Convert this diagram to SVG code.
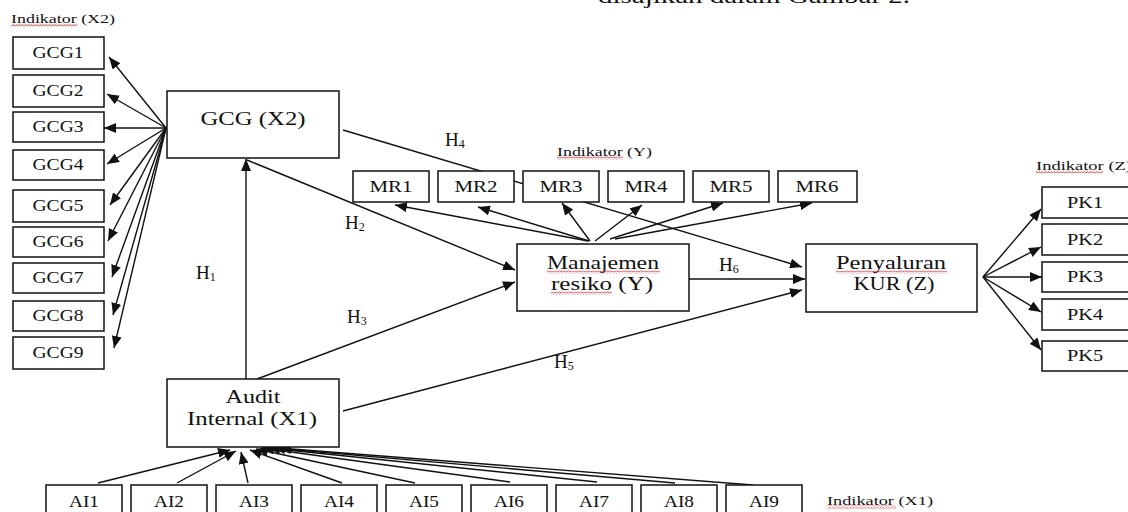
<svg xmlns="http://www.w3.org/2000/svg" width="1128" height="512" viewBox="0 0 1128 512">
<style>
text{font-family:"Liberation Serif","Times New Roman",serif;fill:#111;}
.box{fill:#fff;stroke:#111;stroke-width:1.5;}
.lbl{font-size:16px;text-anchor:middle;}
.big{font-size:19px;text-anchor:middle;}
.ind{font-size:12px;}
.h{font-size:19px;}
.sub{font-size:12px;}
.con line{stroke:#111;stroke-width:1.4;fill:none;}
.arr{marker-end:url(#ah);}
.wave{fill:url(#wv);}
</style>
<defs>
<marker id="ah" viewBox="0 0 12 10" refX="12" refY="5" markerWidth="12" markerHeight="10" markerUnits="userSpaceOnUse" orient="auto">
<path d="M0,0 L12,5 L0,10 z" fill="#111"/>
</marker>
<pattern id="wv" width="3" height="3" patternUnits="userSpaceOnUse">
<polyline points="0,2.5 1.5,0.5 3,2.5" fill="none" stroke="#e02020" stroke-width="0.8"/>
</pattern>
</defs>

<text x="598" y="3" font-size="21" textLength="312" lengthAdjust="spacingAndGlyphs">disajikan dalam Gambar 2.</text>

<g id="connectors" class="con">
<line class="arr" x1="166" y1="128" x2="109" y2="57"/>
<line class="arr" x1="166" y1="128" x2="107" y2="94"/>
<line class="arr" x1="166" y1="128" x2="104" y2="128"/>
<line class="arr" x1="166" y1="128" x2="107" y2="164"/>
<line class="arr" x1="166" y1="128" x2="110" y2="205"/>
<line class="arr" x1="166" y1="128" x2="108" y2="241"/>
<line class="arr" x1="166" y1="128" x2="112" y2="277"/>
<line class="arr" x1="166" y1="128" x2="113" y2="315"/>
<line class="arr" x1="166" y1="128" x2="114" y2="348"/>
<line class="arr" x1="246" y1="379" x2="246" y2="159"/>
<line class="arr" x1="247" y1="160" x2="515" y2="270"/>
<line class="arr" x1="257" y1="379" x2="515" y2="282"/>
<line class="arr" x1="343" y1="130" x2="802" y2="267"/>
<line class="arr" x1="343" y1="411" x2="802" y2="290"/>
<line class="arr" x1="689" y1="279" x2="805" y2="279"/>
<line class="arr" x1="588" y1="241" x2="395" y2="205"/>
<line class="arr" x1="589" y1="241" x2="478" y2="207"/>
<line class="arr" x1="590" y1="241" x2="562" y2="203"/>
<line class="arr" x1="595" y1="241" x2="642" y2="205"/>
<line class="arr" x1="610" y1="239" x2="723" y2="203"/>
<line class="arr" x1="615" y1="239" x2="812" y2="203"/>
<line class="arr" x1="983" y1="277" x2="1041" y2="209"/>
<line class="arr" x1="983" y1="277" x2="1041" y2="247"/>
<line class="arr" x1="983" y1="277" x2="1042" y2="277"/>
<line class="arr" x1="983" y1="277" x2="1041" y2="312"/>
<line class="arr" x1="983" y1="277" x2="1041" y2="350"/>
<line class="arr" x1="98" y1="483" x2="230" y2="450"/>
<line class="arr" x1="177" y1="483" x2="236" y2="451"/>
<line class="arr" x1="248" y1="483" x2="241" y2="452"/>
<line class="arr" x1="342" y1="483" x2="250" y2="450"/>
<line class="arr" x1="415" y1="483" x2="256" y2="449"/>
<line class="arr" x1="510" y1="482" x2="262" y2="448"/>
<line class="arr" x1="597" y1="482" x2="268" y2="448"/>
<line class="arr" x1="675" y1="483" x2="273" y2="448"/>
<line class="arr" x1="753" y1="485" x2="279" y2="448"/>
</g>

<g id="hyp-labels">
<text class="h" x="196" y="279">H<tspan class="sub" dy="2">1</tspan></text>
<text class="h" x="345" y="229">H<tspan class="sub" dy="2">2</tspan></text>
<text class="h" x="347" y="323">H<tspan class="sub" dy="2">3</tspan></text>
<text class="h" x="445" y="146">H<tspan class="sub" dy="2">4</tspan></text>
<text class="h" x="554" y="368">H<tspan class="sub" dy="2">5</tspan></text>
<text class="h" x="719" y="271">H<tspan class="sub" dy="2">6</tspan></text>
</g>

<g id="indikator-x2">
<text class="ind" x="11" y="23" textLength="104" lengthAdjust="spacingAndGlyphs">Indikator (X2)</text>
<rect class="wave" x="11" y="23.5" width="66" height="3"/>
</g>
<g id="indikator-y">
<text class="ind" x="557" y="156" textLength="95" lengthAdjust="spacingAndGlyphs">Indikator (Y)</text>
<rect class="wave" x="557" y="156.5" width="66" height="3"/>
</g>
<g id="indikator-z">
<text class="ind" x="1036" y="170" textLength="96" lengthAdjust="spacingAndGlyphs">Indikator (Z)</text>
<rect class="wave" x="1036" y="170.5" width="67" height="3"/>
</g>
<g id="indikator-x1">
<text class="ind" x="827" y="505" textLength="106" lengthAdjust="spacingAndGlyphs">Indikator (X1)</text>
<rect class="wave" x="827" y="505.5" width="69" height="3"/>
</g>

<g id="GCG1"><rect class="box" x="13" y="37" width="91" height="32"/><text class="lbl" x="58" y="58" textLength="51" lengthAdjust="spacingAndGlyphs">GCG1</text></g>
<g id="GCG2"><rect class="box" x="13" y="75" width="91" height="32"/><text class="lbl" x="58" y="96" textLength="51" lengthAdjust="spacingAndGlyphs">GCG2</text></g>
<g id="GCG3"><rect class="box" x="13" y="112" width="91" height="30"/><text class="lbl" x="58" y="132" textLength="51" lengthAdjust="spacingAndGlyphs">GCG3</text></g>
<g id="GCG4"><rect class="box" x="13" y="150" width="91" height="30"/><text class="lbl" x="58" y="170" textLength="51" lengthAdjust="spacingAndGlyphs">GCG4</text></g>
<g id="GCG5"><rect class="box" x="13" y="190" width="91" height="32"/><text class="lbl" x="58" y="211" textLength="51" lengthAdjust="spacingAndGlyphs">GCG5</text></g>
<g id="GCG6"><rect class="box" x="13" y="227" width="91" height="30"/><text class="lbl" x="58" y="247" textLength="51" lengthAdjust="spacingAndGlyphs">GCG6</text></g>
<g id="GCG7"><rect class="box" x="13" y="263" width="91" height="30"/><text class="lbl" x="58" y="283" textLength="51" lengthAdjust="spacingAndGlyphs">GCG7</text></g>
<g id="GCG8"><rect class="box" x="13" y="301" width="91" height="30"/><text class="lbl" x="58" y="321" textLength="51" lengthAdjust="spacingAndGlyphs">GCG8</text></g>
<g id="GCG9"><rect class="box" x="13" y="337" width="91" height="32"/><text class="lbl" x="58" y="358" textLength="51" lengthAdjust="spacingAndGlyphs">GCG9</text></g>

<g id="GCG-X2"><rect class="box" x="167" y="91" width="172" height="67"/><text class="big" x="253" y="125" textLength="105" lengthAdjust="spacingAndGlyphs">GCG (X2)</text></g>

<g id="MR1"><rect class="box" x="353" y="171" width="76" height="31"/><text class="lbl" x="391" y="192" textLength="43" lengthAdjust="spacingAndGlyphs">MR1</text></g>
<g id="MR2"><rect class="box" x="438" y="171" width="76" height="31"/><text class="lbl" x="476" y="192" textLength="43" lengthAdjust="spacingAndGlyphs">MR2</text></g>
<g id="MR3"><rect class="box" x="523" y="171" width="76" height="31"/><text class="lbl" x="561" y="192" textLength="43" lengthAdjust="spacingAndGlyphs">MR3</text></g>
<g id="MR4"><rect class="box" x="608" y="171" width="76" height="31"/><text class="lbl" x="646" y="192" textLength="43" lengthAdjust="spacingAndGlyphs">MR4</text></g>
<g id="MR5"><rect class="box" x="693" y="171" width="76" height="31"/><text class="lbl" x="731" y="192" textLength="43" lengthAdjust="spacingAndGlyphs">MR5</text></g>
<g id="MR6"><rect class="box" x="778" y="171" width="79" height="31"/><text class="lbl" x="817" y="192" textLength="43" lengthAdjust="spacingAndGlyphs">MR6</text></g>

<g id="Manajemen"><rect class="box" x="517" y="244" width="172" height="67"/>
<text class="big" x="603" y="269" textLength="112" lengthAdjust="spacingAndGlyphs">Manajemen</text>
<text class="big" x="602" y="290" textLength="102" lengthAdjust="spacingAndGlyphs">resiko (Y)</text>
<rect class="wave" x="547" y="270.5" width="113" height="3"/>
<rect class="wave" x="551" y="291.5" width="61" height="3"/></g>

<g id="Penyaluran"><rect class="box" x="806" y="244" width="171" height="68"/>
<text class="big" x="891" y="269" textLength="110" lengthAdjust="spacingAndGlyphs">Penyaluran</text>
<text class="big" x="894" y="290" textLength="81" lengthAdjust="spacingAndGlyphs">KUR (Z)</text>
<rect class="wave" x="836" y="270.5" width="111" height="3"/></g>

<g id="PK1"><rect class="box" x="1042" y="187" width="95" height="31"/><text class="lbl" x="1085" y="208" textLength="36" lengthAdjust="spacingAndGlyphs">PK1</text></g>
<g id="PK2"><rect class="box" x="1042" y="224" width="95" height="31"/><text class="lbl" x="1085" y="245" textLength="36" lengthAdjust="spacingAndGlyphs">PK2</text></g>
<g id="PK3"><rect class="box" x="1042" y="262" width="95" height="30"/><text class="lbl" x="1085" y="282" textLength="36" lengthAdjust="spacingAndGlyphs">PK3</text></g>
<g id="PK4"><rect class="box" x="1042" y="299" width="95" height="31"/><text class="lbl" x="1085" y="320" textLength="36" lengthAdjust="spacingAndGlyphs">PK4</text></g>
<g id="PK5"><rect class="box" x="1042" y="341" width="95" height="30"/><text class="lbl" x="1085" y="361" textLength="36" lengthAdjust="spacingAndGlyphs">PK5</text></g>

<g id="Audit"><rect class="box" x="167" y="379" width="172" height="68"/>
<text class="big" x="253" y="403" textLength="55" lengthAdjust="spacingAndGlyphs">Audit</text>
<text class="big" x="252" y="425" textLength="130" lengthAdjust="spacingAndGlyphs">Internal (X1)</text></g>

<g id="AI1"><rect class="box" x="46" y="485" width="76" height="40"/><text class="lbl" x="84" y="507" textLength="30" lengthAdjust="spacingAndGlyphs">AI1</text></g>
<g id="AI2"><rect class="box" x="131" y="485" width="76" height="40"/><text class="lbl" x="169" y="507" textLength="30" lengthAdjust="spacingAndGlyphs">AI2</text></g>
<g id="AI3"><rect class="box" x="216" y="485" width="76" height="40"/><text class="lbl" x="254" y="507" textLength="30" lengthAdjust="spacingAndGlyphs">AI3</text></g>
<g id="AI4"><rect class="box" x="301" y="485" width="76" height="40"/><text class="lbl" x="339" y="507" textLength="30" lengthAdjust="spacingAndGlyphs">AI4</text></g>
<g id="AI5"><rect class="box" x="386" y="485" width="76" height="40"/><text class="lbl" x="424" y="507" textLength="30" lengthAdjust="spacingAndGlyphs">AI5</text></g>
<g id="AI6"><rect class="box" x="471" y="485" width="76" height="40"/><text class="lbl" x="509" y="507" textLength="30" lengthAdjust="spacingAndGlyphs">AI6</text></g>
<g id="AI7"><rect class="box" x="556" y="485" width="76" height="40"/><text class="lbl" x="594" y="507" textLength="30" lengthAdjust="spacingAndGlyphs">AI7</text></g>
<g id="AI8"><rect class="box" x="641" y="485" width="76" height="40"/><text class="lbl" x="679" y="507" textLength="30" lengthAdjust="spacingAndGlyphs">AI8</text></g>
<g id="AI9"><rect class="box" x="726" y="485" width="76" height="40"/><text class="lbl" x="764" y="507" textLength="30" lengthAdjust="spacingAndGlyphs">AI9</text></g>
</svg>
